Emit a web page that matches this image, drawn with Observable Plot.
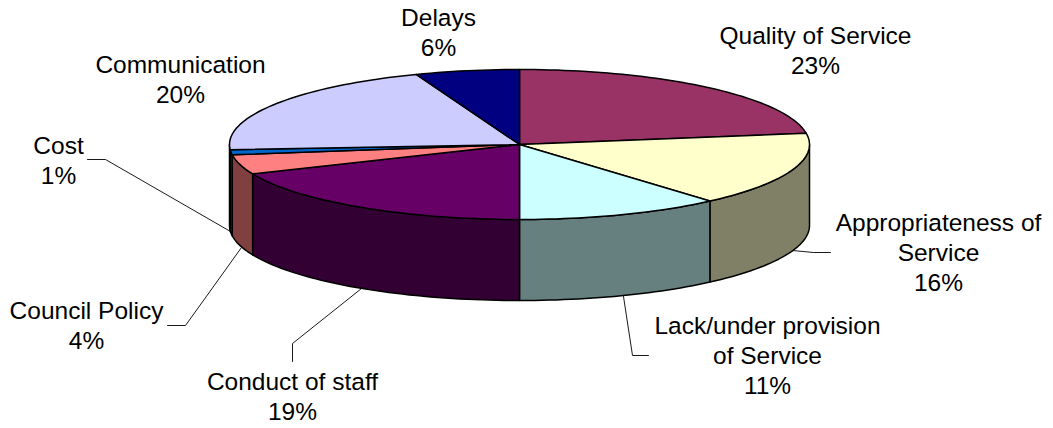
<!DOCTYPE html>
<html>
<head>
<meta charset="utf-8">
<script src="https://cdn.jsdelivr.net/npm/d3@7"></script>
<script src="https://cdn.jsdelivr.net/npm/@observablehq/plot@0.6"></script>
<style>html,body{margin:0;padding:0;background:#fff}svg{display:block}</style>
</head>
<body>
<div id="chart"></div>
<script>
// Data: shares estimated from the slice edges in the picture; labels show them rounded
const categories = ["Quality of Service","Appropriateness of Service","Lack/under provision of Service","Conduct of staff","Council Policy","Cost","Communication","Delays"];
const shares = [22.6,16.0,11.4,18.6,4.2,1.1,20.3,5.8];
const labelLines = ["Quality of Service","Appropriateness of\nService","Lack/under provision\nof Service","Conduct of staff","Council Policy","Cost","Communication","Delays"];
const topColors = ["#993366","#FFFFCC","#CCFFFF","#660066","#FF8080","#0066CC","#CCCCFF","#000080"];
const sideColors = ["#4D1933","#808066","#668080","#330033","#804040","#003366","#666680","#000040"];

// Layout (pixels on the page), separate from the data
const cx = 519, cy = 144, rx = 290, ry = 75, depth = 81;
const ux = px => (px - cx) / rx, uy = py => (cy - py) / ry;
const labelAt = [[815,49],[938,251],[767,354],[292,395],[86,324],[58,159],[180,78],[438,30.5]];
const leaders = [
  null,
  [[830,252],[813,252],[792,250]],
  [[648,355],[632,355],[623,296]],
  [[292,361],[292,343],[361,288]],
  [[167,325],[185,325],[241,247]],
  [[87,159],[105,159],[230,231]],
  null,
  null
];

// Slices: angle runs clockwise from the top of the pie, derived from shares
const total = d3.sum(shares);
const ends = d3.cumsum(shares).map(v => v / total * 360);
const arcPts = (a0, a1, yShift) => {
  const n = Math.max(2, Math.ceil(Math.abs(a1 - a0) / 1.5));
  return d3.range(n + 1).map(i => {
    const a = (a0 + (a1 - a0) * i / n) * Math.PI / 180;
    return [Math.sin(a), Math.cos(a) - yShift];
  });
};
const slices = categories.map((c, i) => ({category: c, a0: i ? ends[i-1] : 0, a1: ends[i]}));

const topRows = slices.flatMap(s => {
  const ring = arcPts(s.a0, s.a1, 0);
  return [[0,0], ...ring, [0,0]].map(([x,y]) => ({id: s.category, x, y}));
});
const dy = depth / ry;
const sideRows = slices.flatMap(s => {
  const a0 = Math.max(s.a0, 90), a1 = Math.min(s.a1, 270);
  if (a1 <= a0) return [];
  const up = arcPts(a0, a1, 0), down = arcPts(a1, a0, dy);
  const pts = [...up, ...down, up[0]];
  return pts.map(([x,y]) => ({id: s.category + " side", x, y}));
});
const leaderRows = leaders.flatMap((l, i) => l ? l.map(([x,y]) => ({id: i, x: ux(x), y: uy(y)})) : []);
const labelRows = categories.map((c, i) => ({
  text: `${labelLines[i]}\n${Math.round(shares[i])}%`, x: ux(labelAt[i][0]), y: uy(labelAt[i][1])
}));

const chart = Plot.plot({
  width: 1053, height: 428,
  marginTop: 0, marginRight: 0, marginBottom: 0, marginLeft: 0,
  style: {background: "#fff"},
  x: {domain: [-1, 1], range: [cx - rx, cx + rx], axis: null},
  y: {domain: [1, -1], range: [cy - ry, cy + ry], axis: null},
  color: {
    domain: [...categories, ...categories.map(c => c + " side")],
    range: [...topColors, ...sideColors]
  },
  marks: [
    Plot.line(leaderRows, {x: "x", y: "y", z: "id", stroke: "#000", strokeWidth: 0.9, curve: "linear"}),
    Plot.line(sideRows, {x: "x", y: "y", z: "id", fill: "id", stroke: "#000", strokeWidth: 1.5, strokeLinejoin: "round", curve: "linear"}),
    Plot.line(topRows, {x: "x", y: "y", z: "id", fill: "id", stroke: "#000", strokeWidth: 1.5, strokeLinejoin: "round", curve: "linear"}),
    Plot.text(labelRows, {
      x: "x", y: "y", text: "text", textAnchor: "middle", lineAnchor: "middle",
      lineHeight: 1.225, fontSize: 24.5, fontFamily: "Liberation Sans, Arial, sans-serif", fill: "#000"
    })
  ]
});
document.getElementById("chart").appendChild(chart);
</script>
</body>
</html>
